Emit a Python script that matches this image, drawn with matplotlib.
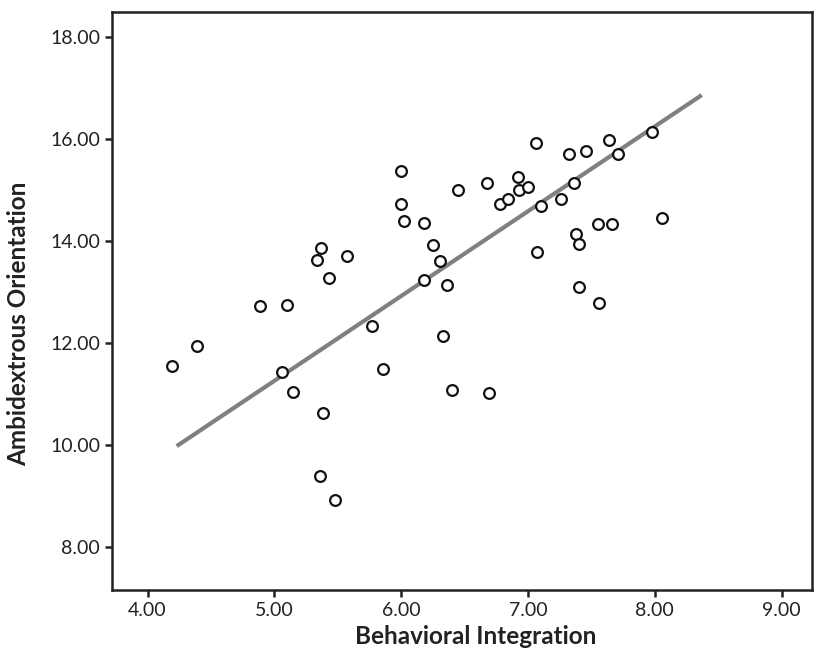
import matplotlib
matplotlib.use('Agg')
import matplotlib.pyplot as plt

# Scatter data
behavioral_integration = [
    4.19, 4.39, 4.89, 5.10, 5.06, 5.15, 5.34, 5.37, 5.43, 5.57,
    5.38, 5.36, 5.48, 5.77, 5.86, 6.00, 6.00, 6.02, 6.18, 6.25,
    6.31, 6.18, 6.36, 6.33, 6.40, 6.45, 6.68, 6.69, 6.78, 6.84,
    6.92, 6.93, 7.00, 7.06, 7.10, 7.07, 7.26, 7.32, 7.36, 7.38,
    7.40, 7.40, 7.46, 7.55, 7.56, 7.64, 7.66, 7.71, 7.98, 8.06,
]
ambidextrous_orientation = [
    11.55, 11.94, 12.72, 12.75, 11.44, 11.05, 13.62, 13.86, 13.27, 13.71,
    10.63, 9.39, 8.92, 12.33, 11.49, 15.37, 14.73, 14.39, 14.35, 13.93,
    13.61, 13.24, 13.13, 12.14, 11.08, 15.00, 15.14, 11.02, 14.73, 14.82,
    15.25, 15.00, 15.06, 15.92, 14.69, 13.78, 14.82, 15.71, 15.14, 14.14,
    13.94, 13.10, 15.76, 14.33, 12.78, 15.98, 14.33, 15.71, 16.14, 14.45,
]

# Fit line end points
fit_x = [4.23, 8.37]
fit_y = [9.98, 16.86]

x_ticks = [4, 5, 6, 7, 8, 9]
y_ticks = [8, 10, 12, 14, 16, 18]

plt.rcParams['font.family'] = ['Lato', 'DejaVu Sans']

fig = plt.figure(figsize=(8.14, 6.51), dpi=100)
ax = fig.add_axes([0.1376, 0.0937, 0.86, 0.888])

ax.plot(fit_x, fit_y, color='#808080', linewidth=3, solid_capstyle='butt', zorder=2)
ax.scatter(behavioral_integration, ambidextrous_orientation, s=60,
           facecolors='white', edgecolors='#111111', linewidths=1.6, zorder=3)

ax.set_xlim(3.72, 9.24)
ax.set_ylim(7.16, 18.49)
ax.set_xticks(x_ticks)
ax.set_yticks(y_ticks)
ax.set_xticklabels(['%.2f' % v for v in x_ticks])
ax.set_yticklabels(['%.2f' % v for v in y_ticks])
ax.tick_params(direction='out', length=5, width=1.8, labelsize=14, color='#222222',
               labelcolor='#222222')

for s in ax.spines.values():
    s.set_linewidth(1.8)
    s.set_color('#222222')

ax.set_xlabel('Behavioral Integration', fontsize=17.5, fontweight='bold',
              color='#222222', va='center')
ax.set_ylabel('Ambidextrous Orientation', fontsize=17.5, fontweight='bold',
              color='#222222', va='center')
ax.xaxis.set_label_coords(0.52, -0.081)
ax.yaxis.set_label_coords(-0.134, 0.46)

plt.savefig('out.png', dpi=100, facecolor='white')
